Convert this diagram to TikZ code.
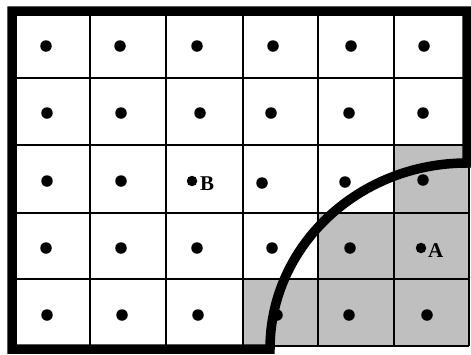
\documentclass[tikz,border=0pt]{standalone}
\usepackage{fontspec}
\setmainfont{Liberation Serif}
\begin{document}
\begin{tikzpicture}[x=1pt,y=-1pt,
  dotmark/.style={circle,fill=black,inner sep=0pt,minimum size=11.5pt},
  smalldot/.style={circle,fill=black,inner sep=0pt,minimum size=10.5pt},
  lbl/.style={font=\bfseries\fontsize{21}{21}\selectfont,inner sep=0pt,anchor=west},
  gridline/.style={line width=2pt,black},
  border/.style={line width=9.5pt,black,line join=miter}]
\useasboundingbox (0,0) rectangle (471,354);
% gray cells
\fill[black!25] (394,145) rectangle (469,213);
\fill[black!25] (318,213) rectangle (469,279);
\fill[black!25] (243,279) rectangle (469,346);
% grid
\foreach \x in {90,166,243,318,394,469} \draw[gridline] (\x,11) -- (\x,346);
\foreach \y in {78,145,213,279,346} \draw[gridline] (12,\y) -- (469,\y);
% border
\draw[border] (12,349) -- (12,11) -- (467,11) -- (467,163)
  arc[start angle=90,end angle=180,x radius=197,y radius=-186] -- (270,349) -- cycle;
% dots
\foreach \x/\n in {46/a,120/b,197/c,273/d,351/e,424/f} \node[dotmark] (r1\n) at (\x,46) {};
\foreach \x/\n in {47/a,121/b,200/c,271/d,349/e,423/f} \node[dotmark] (r2\n) at (\x,113) {};
\node[dotmark] (r3a) at (47,181) {};
\node[dotmark] (r3b) at (121,181) {};
\node[smalldot] (r3c) at (192,181) {};
\node[dotmark] (r3d) at (262,183) {};
\node[dotmark] (r3e) at (345,182) {};
\node[dotmark] (r3f) at (423,180) {};
\node[dotmark] (r4a) at (46,248) {};
\node[dotmark] (r4b) at (121,248) {};
\node[dotmark] (r4c) at (197,248) {};
\node[dotmark] (r4d) at (272,248) {};
\node[dotmark] (r4e) at (350,248) {};
\node[smalldot] (r4f) at (421,248) {};
\foreach \x/\n in {47/a,122/b,198/c,277/d,349/e,427/f} \node[dotmark] (r5\n) at (\x,315) {};
\node[lbl] (labB) at (200,184) {B};
\node[lbl] (labA) at (428,251) {A};
\end{tikzpicture}
\end{document}
